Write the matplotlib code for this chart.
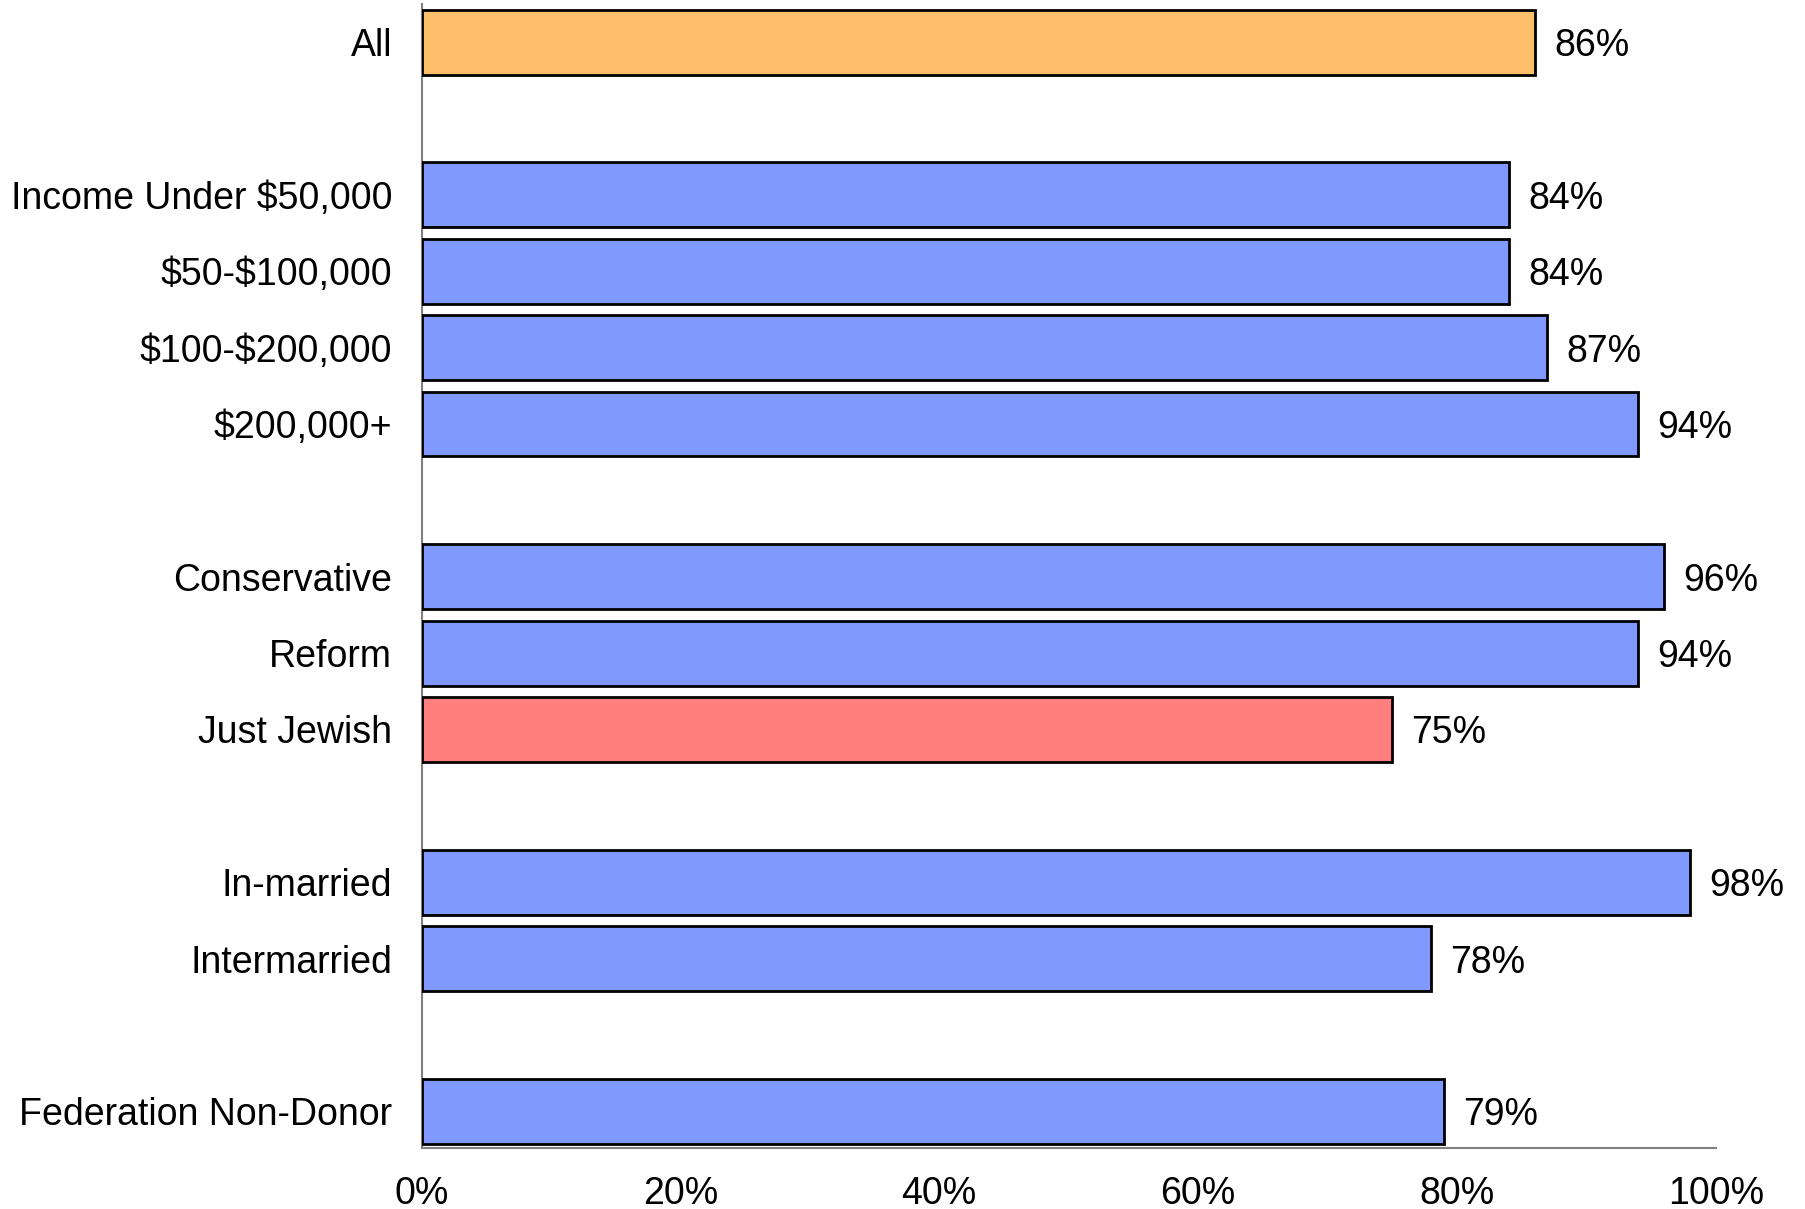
import matplotlib.pyplot as plt
import numpy as np

plt.rcParams['font.family'] = ['Liberation Sans', 'DejaVu Sans']

labels = ['All', '', 'Income Under \\$50,000', '\\$50-\\$100,000', '\\$100-\\$200,000', '\\$200,000+', '',
          'Conservative', 'Reform', 'Just Jewish', '', 'In-married', 'Intermarried', '',
          'Federation Non-Donor']
values = [86, None, 84, 84, 87, 94, None, 96, 94, 75, None, 98, 78, None, 79]
colors = ['#FDBF6A', None, '#7F99FF', '#7F99FF', '#7F99FF', '#7F99FF', None,
          '#7F99FF', '#7F99FF', '#FF7F7F', None, '#7F99FF', '#7F99FF', None, '#7F99FF']
xticks = [0, 20, 40, 60, 80, 100]

fig = plt.figure(figsize=(18.06, 12.09), dpi=100)
ax = fig.add_axes([0.2334, 0.0505, 0.950 - 0.2334, 0.9967 - 0.0505])

pos = [i for i, v in enumerate(values) if v is not None]
vals = [values[i] for i in pos]
cols = [colors[i] for i in pos]
ax.barh(pos, vals, height=0.85, color=cols, edgecolor='black', linewidth=2, zorder=3)
for p, v in zip(pos, vals):
    ax.text(v + 1.5, p, f'{v}%', va='center_baseline', ha='left', fontsize=27)

ax.set_ylim(14.48, -0.5)
ax.set_xlim(0, 100)
ax.set_yticks(pos)
ax.set_yticklabels([labels[i] for i in pos], fontsize=27)
ax.set_xticks(xticks)
ax.set_xticklabels([f'{t}%' for t in xticks], fontsize=27)
ax.tick_params(axis='y', length=0, pad=21)
ax.tick_params(axis='x', length=0, pad=20)
for s in ['top', 'right']:
    ax.spines[s].set_visible(False)
for s in ['left', 'bottom']:
    ax.spines[s].set_color('#808080')
    ax.spines[s].set_linewidth(1.5)

fig.savefig('out.png', dpi=100)
